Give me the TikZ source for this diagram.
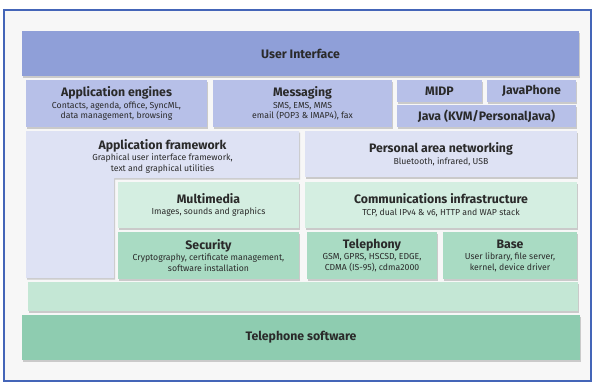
\documentclass[tikz,border=0pt]{standalone}
\usepackage{fontspec}
\setmainfont{Fira Sans}
\usepackage{tikz}
\usetikzlibrary{shadows}

\definecolor{framecol}{HTML}{4465B8}
\definecolor{uicol}{HTML}{8F9FD8}
\definecolor{appcol}{HTML}{B7C0E8}
\definecolor{palecol}{HTML}{DEE2F4}
\definecolor{mintcol}{HTML}{D4EEE1}
\definecolor{greencol}{HTML}{A9DBC3}
\definecolor{barcol}{HTML}{C4E7D5}
\definecolor{phonecol}{HTML}{8ECCB0}
\definecolor{inkcol}{HTML}{2A2A2A}

\newcommand{\head}[1]{{\fontsize{12.3}{13}\selectfont\bfseries #1}}

\begin{document}
\begin{tikzpicture}[x=1pt,y=-1pt,
    box/.style={fill=#1, draw=none, inner sep=0pt, align=center,
      text=inkcol, font=\fontsize{8.7}{10.5}\selectfont,
      drop shadow={shadow xshift=1pt, shadow yshift=-1.5pt, fill=black, opacity=0.18}},
    tag/.style={inner sep=0pt, align=center, text=inkcol,
      font=\fontsize{8.7}{10.5}\selectfont}]
    \useasboundingbox (0,0) rectangle (593,383);

    % draw frame
    \fill[white!97!black] (4,10) rectangle (591,381);
    \draw[framecol, line width=2pt] (4,10) rectangle (591,381);

    % draw top layer
    \node[box=uicol, minimum width=557, minimum height=45] (ui) at (300.5,53.5) {\head{User Interface}};

    % draw application row
    \node[box=appcol, minimum width=181, minimum height=47] (engines) at (116.5,103.5)
      {\head{Application engines}\\[1pt]Contacts, agenda, office, SyncML,\\data management, browsing};
    \node[box=appcol, minimum width=179, minimum height=47] (messaging) at (302.5,103.5)
      {\head{Messaging}\\[1pt]SMS, EMS, MMS\\email (POP3 \& IMAP4), fax};
    \node[box=appcol, minimum width=85, minimum height=22] (midp) at (439.5,91) {\head{MIDP}};
    \node[box=appcol, minimum width=89, minimum height=22] (javaphone) at (531.5,91) {\head{JavaPhone}};
    \node[box=appcol, minimum width=179, minimum height=22] (java) at (486.5,116) {\head{Java (KVM/PersonalJava)}};

    % draw framework layer
    \fill[palecol, drop shadow={shadow xshift=1pt, shadow yshift=-1.5pt, fill=black, opacity=0.18}]
      (26,131) -- (299,131) -- (299,178) -- (114,178) -- (114,278) -- (26,278) -- cycle;
    \node[tag] (framework) at (162.5,156)
      {\head{Application framework}\\[1pt]Graphical user interface framework,\\text and graphical utilities};
    \node[box=palecol, minimum width=272, minimum height=46] (pan) at (441,154)
      {\head{Personal area networking}\\[1pt]Bluetooth, infrared, USB};

    % draw middleware layer
    \node[box=mintcol, minimum width=181, minimum height=46] (multimedia) at (208.5,205)
      {\head{Multimedia}\\[1pt]Images, sounds and graphics};
    \node[box=mintcol, minimum width=272, minimum height=46] (comms) at (441,205)
      {\head{Communications infrastructure}\\[1pt]TCP, dual IPv4 \& v6, HTTP and WAP stack};

    % draw base layer
    \fill[barcol, drop shadow={shadow xshift=1pt, shadow yshift=-1.5pt, fill=black, opacity=0.18}]
      (28,282) rectangle (578,311);
    \node[box=greencol, minimum width=181, minimum height=47] (security) at (208.5,255.5)
      {\head{Security}\\[1pt]Cryptography, certificate management,\\software installation};
    \node[box=greencol, minimum width=130, minimum height=47] (telephony) at (372,255.5)
      {\head{Telephony}\\[1pt]GSM, GPRS, HSCSD, EDGE,\\CDMA (IS-95), cdma2000};
    \node[box=greencol, minimum width=134, minimum height=47] (base) at (510,255.5)
      {\head{Base}\\[1pt]User library, file server,\\kernel, device driver};

    % draw bottom layer
    \node[box=phonecol, minimum width=558, minimum height=45] (phonesw) at (301,337.5) {\head{Telephone software}};
\end{tikzpicture}
\end{document}
